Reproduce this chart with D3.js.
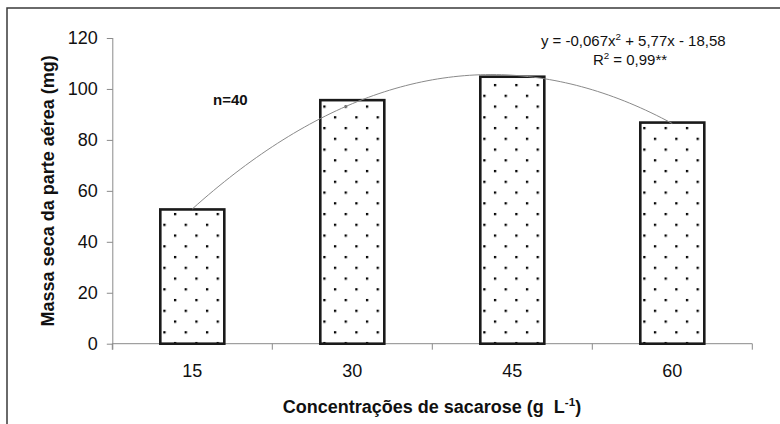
<!DOCTYPE html>
<html>
<head>
<meta charset="utf-8">
<script src="https://cdn.jsdelivr.net/npm/d3@7"></script>
<style>
  html, body { margin: 0; padding: 0; background: #fff; }
  svg { display: block; font-family: "Liberation Sans", Arial, sans-serif; }
</style>
</head>
<body>
<svg id="chart" width="780" height="424"></svg>
<script>
// ---- data ----
const categories = ["15", "30", "45", "60"];
const values = [52.7, 95.6, 104.8, 86.8];
const yTicks = [0, 20, 40, 60, 80, 100, 120];
const trendCoefs = [-0.067, 5.77, -18.58]; // y = a x^2 + b x + c
const trendDomain = [15, 60];
const equationText = ["y = -0,067x", "2", " + 5,77x - 18,58"];
const r2Text = ["R", "2", " = 0,99**"];
const nText = "n=40";
const xTitle = ["Concentrações de sacarose (g\u00a0\u00a0L", "-1", ")"];
const yTitle = "Massa seca da parte aérea (mg)";

// ---- layout ----
const svg = d3.select("#chart");
const axisColor = "#8a8a8a";

// outer frame (extends beyond the picture on right/bottom)
svg.append("rect")
  .attr("x", 7).attr("y", 8).attr("width", 820).attr("height", 460)
  .attr("fill", "none").attr("stroke", "#3a3a3a").attr("stroke-width", 1.5);

const x = d3.scaleBand().domain(categories).range([112.3, 752.3])
  .paddingInner(0.6).paddingOuter(0.3);
const y = d3.scaleLinear().domain([0, 120]).range([343.7, 38]);

// pattern of dots
const defs = svg.append("defs");
const pat = defs.append("pattern").attr("id", "dots")
  .attr("patternUnits", "userSpaceOnUse")
  .attr("x", x(categories[0]) + 3).attr("y", y(values[0]) + 3.5)
  .attr("width", 21.33).attr("height", 21.5);
pat.append("rect").attr("width", 21.33).attr("height", 21.5).attr("fill", "#fff");
pat.append("rect").attr("x", 10.66).attr("y", 0).attr("width", 2.3).attr("height", 2.3).attr("fill", "#000");
pat.append("rect").attr("x", 0).attr("y", 10.75).attr("width", 2.3).attr("height", 2.3).attr("fill", "#000");

// y axis
const yAxis = d3.axisLeft(y).tickValues(yTicks).tickSize(6).tickSizeOuter(0).tickPadding(9);
const gy = svg.append("g").attr("transform", "translate(112.8,0)").call(yAxis);
gy.select(".domain").remove();
gy.append("line").attr("x1", 0).attr("x2", 0).attr("y1", y(120)).attr("y2", y(0) + 6)
  .attr("stroke", axisColor).attr("stroke-width", 1);
gy.selectAll(".tick line").attr("stroke", axisColor);
gy.selectAll(".tick text").attr("fill", "#111").style("font-size", "18px")
  .style("font-family", "'Liberation Sans', Arial, sans-serif");

// x axis
const gx = svg.append("g").attr("transform", `translate(0,${y(0)})`);
gx.append("line").attr("x1", x.range()[0]).attr("x2", x.range()[1])
  .attr("y1", 0).attr("y2", 0).attr("stroke", axisColor);
const boundaries = d3.range(categories.length + 1).map(i => x.range()[0] + i * x.step());
gx.selectAll(".bt").data(boundaries).join("line")
  .attr("x1", d => d).attr("x2", d => d).attr("y1", 0).attr("y2", 6)
  .attr("stroke", axisColor);
const xAxis = d3.axisBottom(x).tickSize(0).tickSizeOuter(0);
const gxl = svg.append("g").attr("transform", `translate(0,${y(0)})`).call(xAxis);
gxl.select(".domain").remove();
gxl.selectAll(".tick text").attr("y", 33).attr("dy", 0).attr("fill", "#111")
  .style("font-size", "18px").style("font-family", "'Liberation Sans', Arial, sans-serif");

// bars
svg.append("g").selectAll("rect").data(values).join("rect")
  .attr("x", (d, i) => x(categories[i]))
  .attr("y", d => y(d))
  .attr("width", x.bandwidth())
  .attr("height", d => y(0) - y(d))
  .attr("fill", "url(#dots)")
  .attr("stroke", "#1a1a1a").attr("stroke-width", 2.6);

// trend curve
const xl = d3.scaleLinear().domain(trendDomain)
  .range([x(categories[0]) + x.bandwidth() / 2, x(categories[categories.length - 1]) + x.bandwidth() / 2]);
const pts = d3.range(trendDomain[0], trendDomain[1] + 0.001, 0.5)
  .map(v => [v, trendCoefs[0] * v * v + trendCoefs[1] * v + trendCoefs[2]]);
svg.append("path").datum(pts)
  .attr("d", d3.line().x(d => xl(d[0])).y(d => y(d[1])))
  .attr("fill", "none").attr("stroke", "#8a8a8a").attr("stroke-width", 1);

// text with a superscript part
function supText(parent, parts, xpos, ypos, size, weight, anchor) {
  const t = parent.append("text").attr("x", xpos).attr("y", ypos)
    .attr("text-anchor", anchor).attr("fill", "#111")
    .style("font-size", size + "px").style("font-weight", weight);
  t.append("tspan").text(parts[0]);
  t.append("tspan").attr("dy", -size * 0.4).style("font-size", (size * 0.65) + "px").text(parts[1]);
  t.append("tspan").attr("dy", size * 0.4).text(parts[2]);
  return t;
}
supText(svg, equationText, 633.3, 46, 15, "normal", "middle");
supText(svg, r2Text, 630, 65, 15, "normal", "middle");

svg.append("text").attr("x", 213).attr("y", 105).attr("fill", "#111")
  .style("font-size", "15px").style("font-weight", "bold").text(nText);

// axis titles
supText(svg, xTitle, 432, 413, 18, "bold", "middle");
svg.append("text")
  .attr("transform", `translate(54,${(y(0) + y(120)) / 2}) rotate(-90)`)
  .attr("text-anchor", "middle").attr("fill", "#111")
  .style("font-size", "18px").style("font-weight", "bold").text(yTitle);
</script>
</body>
</html>
